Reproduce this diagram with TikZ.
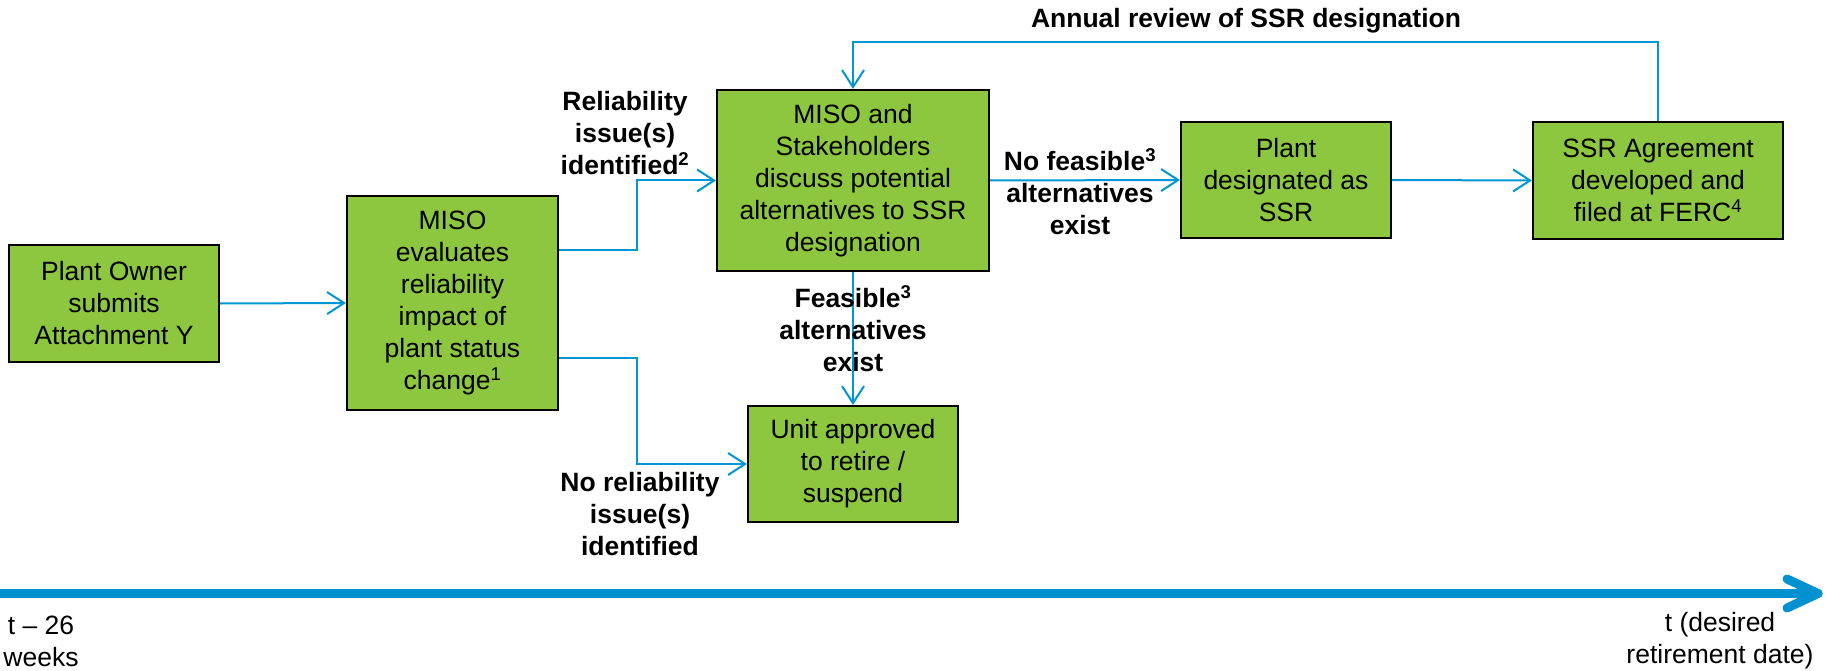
\documentclass[tikz,border=0pt]{standalone}
\usepackage{fontspec}
\setmainfont{Liberation Sans}
\usetikzlibrary{arrows.meta,calc}
\definecolor{boxgreen}{RGB}{141,198,63}
\definecolor{lineblue}{RGB}{0,150,214}
\definecolor{tlblue}{RGB}{0,146,208}
\begin{document}
\begin{tikzpicture}[x=1pt,y=-1pt,
  stepbox/.style={draw=black, line width=2.2pt, fill=boxgreen, inner sep=0pt, align=center, font=\fontsize{26.5}{32}\selectfont},
  conn/.style={draw=lineblue, line width=2pt, -{Straight Barb[length=17pt,width=22pt]}},
  lbl/.style={font=\fontsize{26.5}{32}\selectfont\bfseries, align=center, inner sep=0pt},
  tllbl/.style={font=\fontsize{26.5}{32}\selectfont, align=center, inner sep=0pt},
  tline/.style={draw=tlblue, line width=9pt, line cap=round, line join=round}]
\useasboundingbox (0,0) rectangle (1827,671);

\node[stepbox, minimum width=210pt, minimum height=117pt] (owner) at (114,303.5) {Plant Owner\\submits\\Attachment Y};
\node[stepbox, minimum width=211pt, minimum height=214pt] (eval) at (452.5,303) {MISO\\evaluates\\reliability\\impact of\\plant status\\change\textsuperscript{1}};
\node[stepbox, minimum width=272pt, minimum height=181pt] (discuss) at (853,180.5) {MISO and\\Stakeholders\\discuss potential\\alternatives to SSR\\designation};
\node[stepbox, minimum width=210pt, minimum height=116pt] (unit) at (853,464) {Unit approved\\to retire /\\suspend};
\node[stepbox, minimum width=210pt, minimum height=116pt] (ssr) at (1286,180) {Plant\\designated as\\SSR};
\node[stepbox, minimum width=250pt, minimum height=117pt] (agree) at (1658,180.5) {SSR Agreement\\developed and\\filed at FERC\textsuperscript{4}};

\coordinate (ja) at (637,250);
\coordinate (jb) at (637,358);
\coordinate (fb) at (1246,42);

\draw[conn] (owner.east) -- (eval.west);
\draw[conn] ($(eval.east)+(0,-53)$) -- (ja) |- (discuss.west);
\draw[conn] ($(eval.east)+(0,55)$) -- (jb) |- (unit.west);
\draw[conn] (discuss.south) -- (unit.north);
\draw[conn] (discuss.east) -- (ssr.west);
\draw[conn] (ssr.east) -- (agree.west);
\draw[conn] (agree.north) |- (fb) -| (discuss.north);

\node[lbl] (lrel) at (625,133) {Reliability\\issue(s)\\identified\textsuperscript{2}};
\node[lbl] (lnofeas) at (1080,192) {No feasible\textsuperscript{3}\\alternatives\\exist};
\node[lbl] (lfeas) at (853,329) {Feasible\textsuperscript{3}\\alternatives\\exist};
\node[lbl] (lnorel) at (640,514) {No reliability\\issue(s)\\identified};
\node[lbl] (lannual) at (1246,21) {Annual review of SSR designation};

\coordinate (t0) at (-10,593.5);
\coordinate (t1) at (1818,593.5);
\coordinate (ta) at (1787,579);
\coordinate (tb) at (1787,608);
\draw[tline] (t0) -- (t1);
\draw[tline] (ta) -- (t1) -- (tb);

\node[tllbl] (tstart) at (41,641) {t \textendash{} 26\\weeks};
\node[tllbl] (tend) at (1720,641) {t (desired\\retirement date)};
\end{tikzpicture}
\end{document}
